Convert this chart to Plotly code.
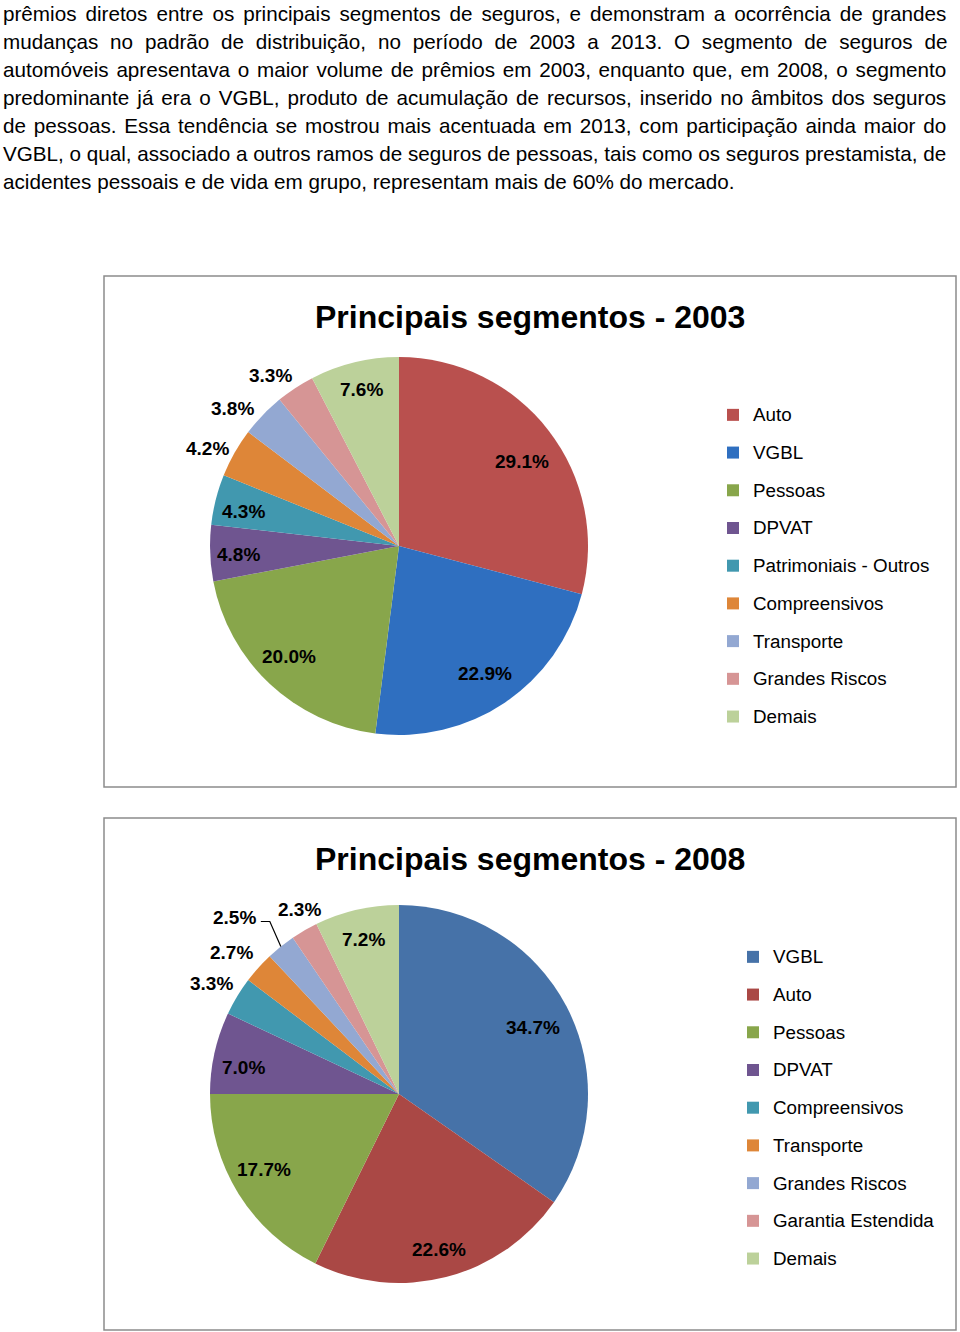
import math
import plotly.graph_objects as go

W, H = 960, 1332

# ---------------- data ----------------
paragraph_lines = [
    "prêmios diretos entre os principais segmentos de seguros, e demonstram a ocorrência de grandes",
    "mudanças no padrão de distribuição, no período de 2003 a 2013. O segmento de seguros de",
    "automóveis apresentava o maior volume de prêmios em 2003, enquanto que, em 2008, o segmento",
    "predominante já era o VGBL, produto de acumulação de recursos, inserido no âmbitos dos seguros",
    "de pessoas. Essa tendência se mostrou mais acentuada em 2013, com participação ainda maior do",
    "VGBL, o qual, associado a outros ramos de seguros de pessoas, tais como os seguros prestamista, de",
    "acidentes pessoais e de vida em grupo, representam mais de 60% do mercado.",
]

title_2003 = "Principais segmentos - 2003"
labels_2003 = ["Auto", "VGBL", "Pessoas", "DPVAT", "Patrimoniais - Outros",
               "Compreensivos", "Transporte", "Grandes Riscos", "Demais"]
values_2003 = [29.1, 22.9, 20.0, 4.8, 4.3, 4.2, 3.8, 3.3, 7.6]

title_2008 = "Principais segmentos - 2008"
labels_2008 = ["VGBL", "Auto", "Pessoas", "DPVAT", "Compreensivos",
               "Transporte", "Grandes Riscos", "Garantia Estendida", "Demais"]
values_2008 = [34.7, 22.6, 17.7, 7.0, 3.3, 2.7, 2.5, 2.3, 7.2]

# ---------------- styles ----------------
colors_2003 = ["#B9504E", "#2F6FC0", "#88A64B", "#6F5590", "#4198AF",
               "#DE8638", "#93A8D2", "#D69595", "#BCD19A"]
colors_2008 = ["#4672A8", "#AA4845", "#88A64B", "#6F5590", "#4198AF",
               "#DE8638", "#93A8D2", "#D69595", "#BCD19A"]
# label placement per slice: (radius factor, angle offset in degrees); None -> leader line
lab_pos_2003 = [(0.79, 3.3), (0.815, 0), (0.825, 1.8), (0.85, -1), (0.84, -1.8),
                (1.14, -2.5), (1.14, -4.4), (1.13, -3.7), (0.85, 0)]
lab_pos_2008 = [(0.79, 1.3), (0.85, 0), (0.82, 2.5), (0.835, -2.8), (1.15, -0.6),
                (1.16, -1.9), None, (1.11, 1.7), (0.84, 0)]

FONT = "'Liberation Sans', Arial, sans-serif"


def px(x):
    return x / W


def py(y):
    return 1 - y / H


fig = go.Figure()

charts = [
    dict(labels=labels_2003, values=values_2003, colors=colors_2003, labpos=lab_pos_2003,
         cx=399, cy=546, R=189, legend="legend", title=title_2003, ty=317,
         box=(104, 276, 956, 787), span="font-size:18.8px;baseline-shift:4px"),
    dict(labels=labels_2008, values=values_2008, colors=colors_2008, labpos=lab_pos_2008,
         cx=399, cy=1094, R=189, legend="legend2", title=title_2008, ty=859,
         box=(104, 818, 956, 1330), span="baseline-shift:4px;font-size:18.8px"),
]

annotations = []
shapes = []

for c in charts:
    cx, cy, R = c["cx"], c["cy"], c["R"]
    fig.add_trace(go.Pie(
        labels=[f"<span style='{c['span']}'>{l}</span>" for l in c["labels"]],
        values=c["values"],
        sort=False, direction="clockwise", rotation=0,
        marker=dict(colors=c["colors"], line=dict(width=0)),
        textinfo="none", hoverinfo="label+value",
        domain=dict(x=[px(cx - R), px(cx + R)], y=[py(cy + R), py(cy - R)]),
        legend=c["legend"], showlegend=True,
    ))
    total = sum(c["values"])
    cum = 0.0
    for i, v in enumerate(c["values"]):
        mid = (cum + v / 2) / total * 2 * math.pi
        cum += v
        txt = f"<b>{v:.1f}%</b>"
        lp = c["labpos"][i]
        if lp is None:
            # label displaced to upper-left with a bent leader line to the slice edge
            ex = cx + R * math.sin(mid)
            ey = cy - R * math.cos(mid)
            annotations.append(dict(
                x=px(ex - 46), y=py(ey - 28.5), xref="paper", yref="paper", text=txt,
                showarrow=False, xanchor="center", yanchor="middle",
                font=dict(family=FONT, size=19, color="#000")))
            pts = [(ex, ey), (ex - 11, ey - 25), (ex - 20, ey - 25)]
            path = "M " + " L ".join(f"{px(a):.5f},{py(b):.5f}" for a, b in pts)
            shapes.append(dict(type="path", xref="paper", yref="paper", path=path,
                               line=dict(color="#000", width=1.2)))
            continue
        rf, off = lp
        ang = mid + math.radians(off)
        lx = cx + rf * R * math.sin(ang)
        ly = cy - rf * R * math.cos(ang)
        annotations.append(dict(
            x=px(lx), y=py(ly), xref="paper", yref="paper", text=txt,
            showarrow=False, xanchor="center", yanchor="middle",
            font=dict(family=FONT, size=19, color="#000")))
    annotations.append(dict(
        x=px(530), y=py(c["ty"]), xref="paper", yref="paper",
        text=f"<b>{c['title']}</b>", showarrow=False,
        xanchor="center", yanchor="middle",
        font=dict(family=FONT, size=32, color="#000")))
    x0, y0, x1, y1 = c["box"]
    shapes.append(dict(type="rect", xref="paper", yref="paper",
                       x0=px(x0), x1=px(x1), y0=py(y1), y1=py(y0),
                       line=dict(color="#8C8C8C", width=1.5), fillcolor="rgba(0,0,0,0)"))

# paragraph: justification via word-spacing using Arial (Liberation Sans) metrics
ARIAL = {
    ' ': 278, '%': 889, ',': 278, '-': 333, '.': 278, ':': 278,
    'A': 667, 'B': 667, 'C': 722, 'D': 722, 'E': 667, 'F': 611, 'G': 778, 'H': 722,
    'I': 278, 'J': 500, 'K': 667, 'L': 556, 'M': 833, 'N': 722, 'O': 778, 'P': 667,
    'Q': 778, 'R': 722, 'S': 667, 'T': 611, 'U': 722, 'V': 667, 'W': 944, 'X': 667,
    'Y': 667, 'Z': 611,
    'a': 556, 'b': 556, 'c': 500, 'd': 556, 'e': 556, 'f': 278, 'g': 556, 'h': 556,
    'i': 222, 'j': 222, 'k': 500, 'l': 222, 'm': 833, 'n': 556, 'o': 556, 'p': 556,
    'q': 556, 'r': 333, 's': 500, 't': 278, 'u': 556, 'v': 500, 'w': 722, 'x': 500,
    'y': 500, 'z': 500,
}
BASE = {'ê': 'e', 'é': 'e', 'ç': 'c', 'ã': 'a', 'â': 'a', 'á': 'a', 'í': 'i', 'ó': 'o', 'ú': 'u'}


def em_width(s):
    tot = 0
    for ch in s:
        ch2 = BASE.get(ch, ch)
        tot += ARIAL.get(ch2, 556)
    return tot / 1000


PFS = 732 / em_width(paragraph_lines[-1])
TARGET = 944
for i, line in enumerate(paragraph_lines):
    yline = 13.5 + 28 * i
    if i < len(paragraph_lines) - 1:
        nat = em_width(line) * PFS
        nsp = line.count(" ")
        ws = (TARGET - nat) / nsp
        txt = f"<span style='word-spacing:{ws:.2f}px'>{line}</span>"
    else:
        txt = line
    annotations.append(dict(
        x=px(2), y=py(yline), xref="paper", yref="paper", text=txt,
        showarrow=False, xanchor="left", yanchor="middle", borderpad=0,
        font=dict(family=FONT, size=PFS, color="#000")))

leg_common = dict(font=dict(family=FONT, size=26.7, color="#000"),
                  bgcolor="rgba(0,0,0,0)", borderwidth=0,
                  xanchor="left", yanchor="top", orientation="v")

fig.update_layout(
    width=W, height=H,
    margin=dict(l=0, r=0, t=0, b=0),
    paper_bgcolor="#FFFFFF", plot_bgcolor="#FFFFFF",
    annotations=annotations, shapes=shapes,
    legend=dict(x=px(713), y=py(391), **leg_common),
    legend2=dict(x=px(733), y=py(933), **leg_common),
)

fig.write_html("out.html")
